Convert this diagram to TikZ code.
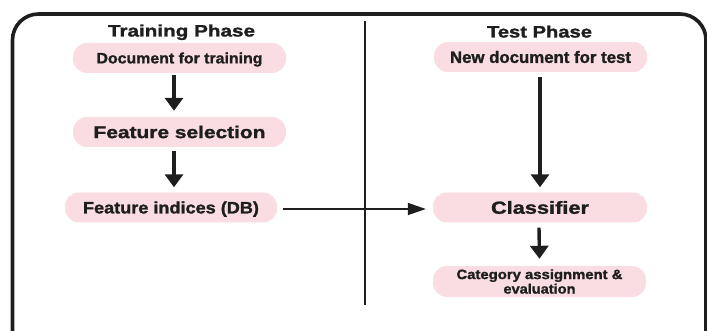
\documentclass[tikz,border=0pt]{standalone}
\usepackage{fontspec}
\usepackage{graphicx}
\setmainfont{Liberation Sans}[BoldFeatures={FakeBold=1.4}]
\usetikzlibrary{arrows.meta}
\definecolor{boxpink}{HTML}{F9DDE2}
\definecolor{ink}{HTML}{1E1E1E}
% wide lettering: stretch a text to a given width, keeping its height
\newcommand\widetext[2]{\resizebox{#1}{\height}{#2}}
\begin{document}
\begin{tikzpicture}[x=1pt,y=-1pt,
  pill/.style={fill=boxpink, rounded corners=14pt, inner sep=0pt,
    minimum width=213pt, minimum height=30pt, text=ink},
  cap/.style={text height={0.716*#1 pt}, text depth=0pt,
    font=\bfseries\fontsize{#1}{#1}\selectfont},
  phase/.style={cap=16.5, text=ink, inner sep=0pt, anchor=base},
  flow/.style={line width=3.4pt, ink, -{Triangle[width=18pt,length=13pt]}},
  link/.style={line width=1.8pt, ink, -{Triangle[width=12pt,length=18pt]}}]
\useasboundingbox (0,0) rectangle (707,331);
\begin{scope}
\clip (0,0) rectangle (707,331);
% outer frame, running past the right and lower edges
\draw[line width=3.6pt, ink, rounded corners=26pt] (12.5,14) rectangle (706,356);
\end{scope}
% divider between the two phases
\draw[line width=1.6pt, ink] (365,21) -- (365,305);

\node[phase] (tp) at (181.5,36.5) {\widetext{147pt}{Training Phase}};
\node[phase] (sp) at (539.5,37.5) {\widetext{105pt}{Test Phase}};

\node[pill, cap=15] (doc) at (179.5,58) {\widetext{166pt}{Document for training}};
\node[pill, cap=17] (fs) at (179.5,132) {\widetext{172pt}{Feature selection}};
\node[pill, cap=16.5, minimum width=212pt] (fi) at (171,207.5) {\widetext{176pt}{Feature indices (DB)}};

\node[pill, cap=16.5] (nd) at (540.5,57) {\widetext{181pt}{New document for test}};
\node[pill, cap=17.5, minimum width=214pt] (cl) at (540,207.5) {\widetext{98pt}{Classifier}};
\node[pill, minimum height=31pt, align=center,
  font=\bfseries\fontsize{13.5}{14.5}\selectfont] (ca) at (539.5,281.5)
  {\widetext{166pt}{Category assignment \&}\\\widetext{72pt}{evaluation}};

% training flow
\draw[flow] ([xshift=-5.5pt,yshift=-2pt]doc.south) -- ([xshift=-5.5pt,yshift=6pt]fs.north);
\draw[flow] ([xshift=-5.5pt,yshift=-4pt]fs.south) -- ([xshift=3pt,yshift=5pt]fi.north);
% test flow
\draw[flow] ([xshift=-0.5pt,yshift=-5pt]nd.south) -- ([yshift=5pt]cl.north);
\draw[flow] ([xshift=-1pt,yshift=-5pt]cl.south) -- ([yshift=7pt]ca.north);
% stored indices feed the classifier
\draw[link] ([xshift=6pt,yshift=-1.5pt]fi.east) -- ([xshift=-7pt,yshift=-1.5pt]cl.west);
\end{tikzpicture}
\end{document}
